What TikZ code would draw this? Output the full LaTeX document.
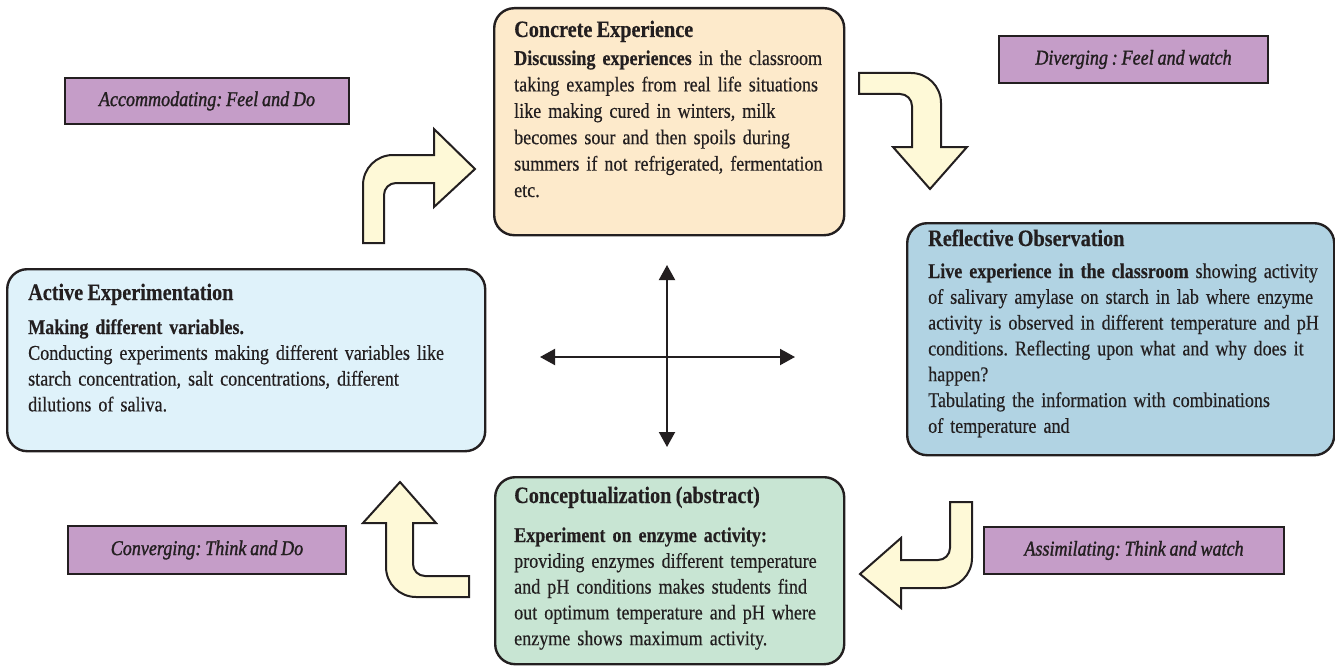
\documentclass[tikz,border=0pt]{standalone}
\usepackage{fontspec}
\setmainfont{Liberation Serif}[FakeStretch=0.86, FakeBold=0.35, WordSpace=0.85]
\newfontfamily\tagfont{Liberation Serif}[FakeStretch=0.86, FakeBold=1.3, WordSpace=0.85]
\frenchspacing
\usetikzlibrary{arrows.meta}

\definecolor{ink}{HTML}{231F20}
\definecolor{peach}{HTML}{FDEACB}
\definecolor{steelblue}{HTML}{B1D3E3}
\definecolor{paleblue}{HTML}{DFF2FA}
\definecolor{mint}{HTML}{C8E5D3}
\definecolor{tagpurple}{HTML}{C59DC8}
\definecolor{cream}{HTML}{FEF9D7}

\tikzset{
  panel/.style={draw=ink, line width=2.4pt, rounded corners=20pt, anchor=north west, inner sep=0pt},
  tag/.style={draw=ink, line width=2pt, fill=tagpurple, anchor=north west, inner sep=0pt,
    text=ink, font=\tagfont\itshape\fontsize{21}{25}\selectfont},
  heading/.style={anchor=base west, inner sep=0pt, text=ink, font=\bfseries\fontsize{23.5}{28}\selectfont},
  body/.style={anchor=base west, inner sep=0pt, align=left, text width=420pt, text=ink,
    font=\fontsize{21}{#1}\selectfont},
  body/.default=25.8,
  blockarrow/.style={draw=ink, line width=2pt, fill=cream, line join=miter},
  axis/.style={draw=ink, line width=2pt, {Triangle[length=15pt,width=16pt]}-{Triangle[length=15pt,width=16pt]}}
}

\begin{document}
\begin{tikzpicture}[x=1pt, y=-1pt]
\useasboundingbox (0,0) rectangle (1335,666);

% the four stages of the cycle
\node[panel, fill=peach, minimum width=350pt, minimum height=227pt] (ce) at (493,7) {};
\node[panel, fill=steelblue, minimum width=427pt, minimum height=232pt] (ro) at (906,222) {};
\node[panel, fill=paleblue, minimum width=478pt, minimum height=182pt] (ae) at (6,268) {};
\node[panel, fill=mint, minimum width=349pt, minimum height=187pt] (ca) at (494,476) {};

% Concrete Experience
\node[heading] (ceh) at (514,37) {Concrete Experience};
\node[body=26.4] (cet) at (514,65) {\textbf{Discussing experiences} in the classroom\\
taking examples from real life situations\\
like making cured in winters, milk\\
becomes sour and then spoils during\\
summers if not refrigerated, fermentation\\
etc.};

% Reflective Observation
\node[heading] (roh) at (928,246) {Reflective Observation};
\node[body] (rot) at (928,278) {\textbf{Live experience in the classroom} showing activity\\
of salivary amylase on starch in lab where enzyme\\
activity is observed in different temperature and pH\\
conditions. Reflecting upon what and why does it\\
happen?\\
Tabulating the information with combinations\\
of temperature and};

% Active Experimentation
\node[heading] (aeh) at (28,300) {Active Experimentation};
\node[body] (aet) at (28,334) {\textbf{Making different variables.}\\
Conducting experiments making different variables like\\
starch concentration, salt concentrations, different\\
dilutions of saliva.};

% Conceptualization
\node[heading] (cah) at (514,503) {Conceptualization (abstract)};
\node[body] (cat) at (514,542) {\textbf{Experiment on enzyme activity:}\\
providing enzymes different temperature\\
and pH conditions makes students find\\
out optimum temperature and pH where\\
enzyme shows maximum activity.};

% learning style tags
\node[tag, minimum width=284pt, minimum height=46pt] (acc) at (64,77) {Accommodating: Feel and Do};
\node[tag, minimum width=269pt, minimum height=47pt] (div) at (998,35) {Diverging : Feel and watch};
\node[tag, minimum width=278pt, minimum height=48pt] (conv) at (67,525) {Converging: Think and Do};
\node[tag, minimum width=300pt, minimum height=47pt] (asm) at (983,526) {Assimilating: Think and watch};

% bent block arrows between the stages
\path[blockarrow] (363,243) -- (363,185) .. controls (363,168.43) and (376.43,155) .. (393,155)
  -- (434,155) -- (434,129) -- (475,169) -- (434,207) -- (434,183) -- (396,183)
  .. controls (389.37,183) and (384,188.37) .. (384,195) -- (384,243) -- cycle;
\path[blockarrow] (859,73) -- (911,73) .. controls (927.57,73) and (941,86.43) .. (941,103)
  -- (941,147) -- (967,147) -- (930,189) -- (893,147) -- (912,147) -- (912,106)
  .. controls (912,99.37) and (906.63,94) .. (900,94) -- (859,94) -- cycle;
\path[blockarrow] (950,502) -- (972,502) -- (972,558) .. controls (972,574.57) and (958.57,588) .. (942,588)
  -- (901,588) -- (901,608) -- (860,574) -- (901,538) -- (901,560) -- (938,560)
  .. controls (944.63,560) and (950,554.63) .. (950,548) -- cycle;
\path[blockarrow] (469,597) -- (416,597) .. controls (399.43,597) and (386,583.57) .. (386,567)
  -- (386,523) -- (363,523) -- (400,482) -- (436,523) -- (413,523) -- (413,564)
  .. controls (413,570.63) and (418.37,576) .. (425,576) -- (469,576) -- cycle;

% central axes
\coordinate (up) at (667,265);
\coordinate (down) at (667,447);
\coordinate (left) at (540,357);
\coordinate (right) at (795,357);
\draw[axis] (down) -- (up);
\draw[axis] (left) -- (right);
\end{tikzpicture}
\end{document}
